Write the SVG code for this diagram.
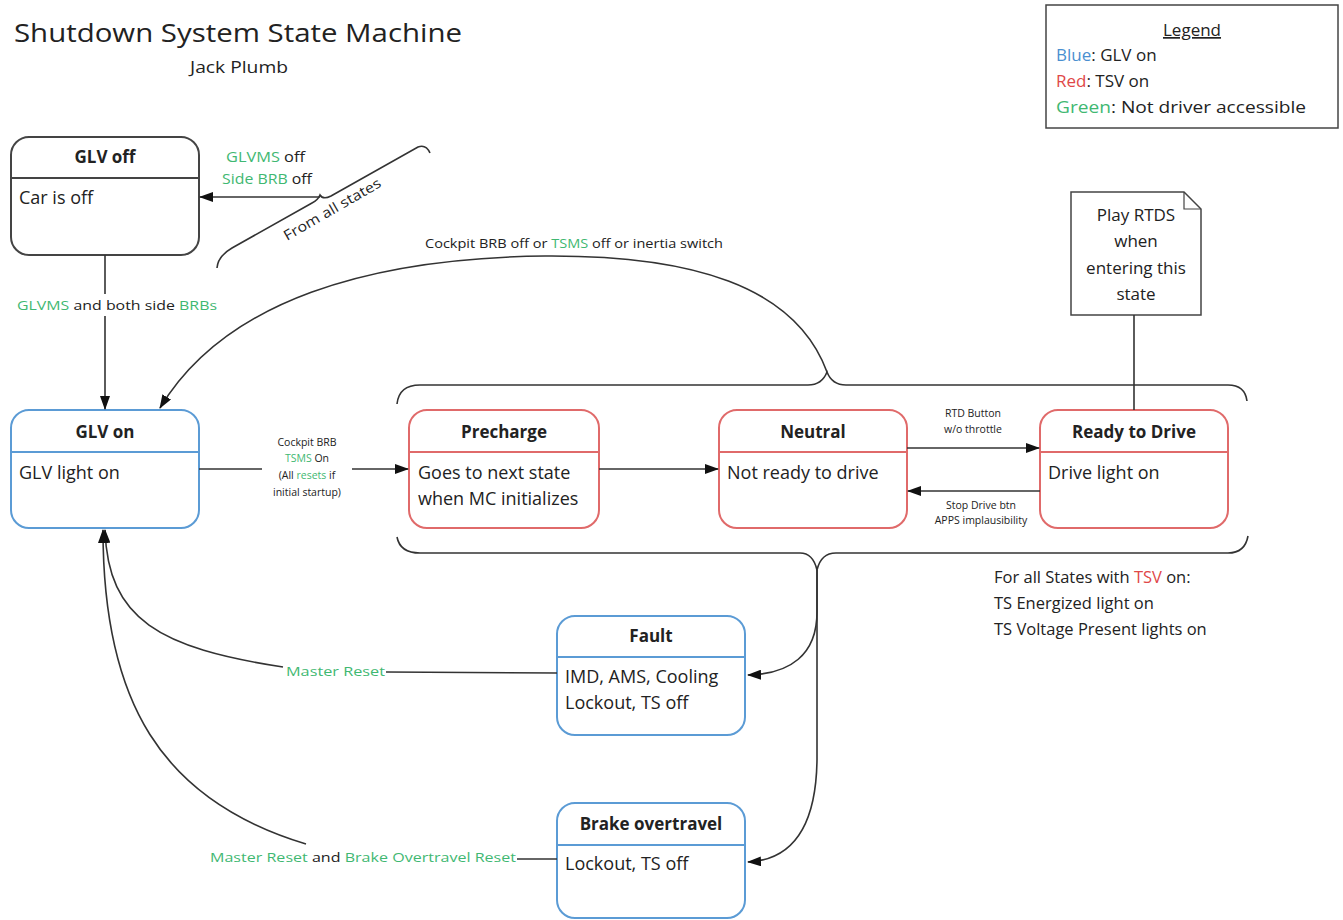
<svg xmlns="http://www.w3.org/2000/svg" width="1343" height="920" viewBox="0 0 1343 920">
<style>
text{font-family:"Open Sans",Lato,"Liberation Sans",sans-serif;fill:#222}
.g{fill:#3fb872}
.b{fill:#4a8fd0}
.r{fill:#e04848}
.ttl{font-weight:bold;font-size:17px;text-anchor:middle}
.bd{font-size:18px}
.xs{font-size:10.5px;text-anchor:middle}
.st-k{fill:#fff;stroke:#444;stroke-width:2}
.st-b{fill:#fff;stroke:#5b9bd5;stroke-width:2}
.st-r{fill:#fff;stroke:#e06a6a;stroke-width:2}
.conn{fill:none;stroke:#333;stroke-width:1.6}
</style>
<defs>
<marker id="ah" viewBox="0 0 14 10" refX="13" refY="5" markerWidth="14" markerHeight="10" markerUnits="userSpaceOnUse" orient="auto">
<path d="M0,0 L14,5 L0,10 Z" fill="#111"/>
</marker>
</defs>
<rect width="1343" height="920" fill="#fff"/>

<g id="title">
<text x="14" y="42" font-size="26" textLength="448" lengthAdjust="spacingAndGlyphs">Shutdown System State Machine</text>
<text x="190" y="73" font-size="16" textLength="98" lengthAdjust="spacingAndGlyphs">Jack Plumb</text>
</g>

<g id="legend">
<rect x="1046" y="5" width="292" height="123" fill="#fff" stroke="#444" stroke-width="1.5"/>
<text x="1192" y="36" font-size="17" text-anchor="middle" text-decoration="underline">Legend</text>
<text x="1056" y="61" font-size="17"><tspan class="b">Blue</tspan>: GLV on</text>
<text x="1056" y="87" font-size="17"><tspan class="r">Red</tspan>: TSV on</text>
<text x="1056" y="113" font-size="17" textLength="250" lengthAdjust="spacingAndGlyphs"><tspan class="g">Green</tspan>: Not driver accessible</text>
</g>

<g id="glv-off">
<rect class="st-k" x="11" y="137" width="188" height="118" rx="18"/>
<line x1="11" y1="178" x2="199" y2="178" stroke="#444" stroke-width="2"/>
<text class="ttl" x="105" y="163">GLV off</text>
<text class="bd" x="19" y="204">Car is off</text>
</g>

<g id="glv-on">
<rect class="st-b" x="11" y="410" width="188" height="118" rx="18"/>
<line x1="11" y1="452" x2="199" y2="452" stroke="#5b9bd5" stroke-width="2"/>
<text class="ttl" x="105" y="438">GLV on</text>
<text class="bd" x="19" y="479">GLV light on</text>
</g>

<g id="precharge">
<rect class="st-r" x="409" y="410" width="190" height="118" rx="18"/>
<line x1="409" y1="452" x2="599" y2="452" stroke="#e06a6a" stroke-width="2"/>
<text class="ttl" x="504" y="438">Precharge</text>
<text class="bd" x="418" y="479">Goes to next state</text>
<text class="bd" x="418" y="505">when MC initializes</text>
</g>

<g id="neutral">
<rect class="st-r" x="719" y="410" width="188" height="118" rx="18"/>
<line x1="719" y1="452" x2="907" y2="452" stroke="#e06a6a" stroke-width="2"/>
<text class="ttl" x="813" y="438">Neutral</text>
<text class="bd" x="727" y="479">Not ready to drive</text>
</g>

<g id="ready-to-drive">
<rect class="st-r" x="1040" y="410" width="188" height="118" rx="18"/>
<line x1="1040" y1="452" x2="1228" y2="452" stroke="#e06a6a" stroke-width="2"/>
<text class="ttl" x="1134" y="438">Ready to Drive</text>
<text class="bd" x="1048" y="479">Drive light on</text>
</g>

<g id="fault">
<rect class="st-b" x="557" y="616" width="188" height="119" rx="18"/>
<line x1="557" y1="657" x2="745" y2="657" stroke="#5b9bd5" stroke-width="2"/>
<text class="ttl" x="651" y="642">Fault</text>
<text class="bd" x="565" y="683">IMD, AMS, Cooling</text>
<text class="bd" x="565" y="709">Lockout, TS off</text>
</g>

<g id="brake-overtravel">
<rect class="st-b" x="557" y="803" width="188" height="115" rx="18"/>
<line x1="557" y1="845" x2="745" y2="845" stroke="#5b9bd5" stroke-width="2"/>
<text class="ttl" x="651" y="830">Brake overtravel</text>
<text class="bd" x="565" y="870">Lockout, TS off</text>
</g>

<g id="note">
<path d="M1071,192 L1184,192 L1201,209 L1201,315 L1071,315 Z" fill="#fff" stroke="#444" stroke-width="1.5"/>
<path d="M1184,192 L1184,209 L1201,209" fill="none" stroke="#444" stroke-width="1.2"/>
<text x="1136" y="221" font-size="17" text-anchor="middle">Play RTDS</text>
<text x="1136" y="247" font-size="17" text-anchor="middle">when</text>
<text x="1136" y="274" font-size="17" text-anchor="middle">entering this</text>
<text x="1136" y="300" font-size="17" text-anchor="middle">state</text>
</g>

<g id="tsv-info">
<text x="994" y="583" font-size="16.5">For all States with <tspan class="r">TSV</tspan> on:</text>
<text x="994" y="609" font-size="16.5">TS Energized light on</text>
<text x="994" y="635" font-size="16.5">TS Voltage Present lights on</text>
</g>

<g id="connectors">
<!-- from all states brace -->
<path class="conn" d="M217,268 Q218,256 232,248 L312,203 Q318,200 320,195 Q323,200 331,196 L418,147 Q426,144 430,153"/>
<text x="0" y="0" font-size="14" transform="translate(287,241) rotate(-30)" textLength="110" lengthAdjust="spacingAndGlyphs">From all states</text>
<path class="conn" d="M320,197 L200,197" marker-end="url(#ah)"/>
<text x="226" y="162" font-size="14.5" textLength="79" lengthAdjust="spacingAndGlyphs"><tspan class="g">GLVMS</tspan> off</text>
<text x="222" y="184" font-size="14.5" textLength="90" lengthAdjust="spacingAndGlyphs"><tspan class="g">Side BRB</tspan> off</text>

<!-- GLV off -> GLV on -->
<path class="conn" d="M105,255 L105,294"/>
<path class="conn" d="M105,316 L105,409" marker-end="url(#ah)"/>
<text x="17" y="310" font-size="13.5" textLength="200" lengthAdjust="spacingAndGlyphs"><tspan class="g">GLVMS</tspan> and both side <tspan class="g">BRBs</tspan></text>

<!-- top brace and return arc -->
<path class="conn" d="M397,404 Q399,385 420,385 L808,385 Q822,385 827,372 Q832,385 846,385 L1228,385 Q1245,385 1247,401"/>
<path class="conn" d="M827,372 C795,285 690,255 545,256 C370,258 225,300 160,408" marker-end="url(#ah)"/>
<text x="425" y="248" font-size="12.5" textLength="298" lengthAdjust="spacingAndGlyphs">Cockpit BRB off or <tspan class="g">TSMS</tspan> off or inertia switch</text>

<!-- bottom brace -->
<path class="conn" d="M397,537 Q400,553 420,553 L800,553 Q813,553 817,570 Q821,553 836,553 L1228,553 Q1245,553 1248,536"/>
<path class="conn" d="M817,570 L817,612 C817,655 790,674 748,675" marker-end="url(#ah)"/>
<path class="conn" d="M817,570 L817,760 C816,830 790,860 748,862" marker-end="url(#ah)"/>

<!-- GLV on -> Precharge -->
<path class="conn" d="M199,469 L262,469"/>
<path class="conn" d="M352,469 L408,469" marker-end="url(#ah)"/>
<text class="xs" x="307" y="446">Cockpit BRB</text>
<text class="xs" x="307" y="462"><tspan class="g">TSMS</tspan> On</text>
<text class="xs" x="307" y="479">(All <tspan class="g">resets</tspan> if</text>
<text class="xs" x="307" y="496">initial startup)</text>

<!-- Precharge -> Neutral -->
<path class="conn" d="M599,469 L718,469" marker-end="url(#ah)"/>

<!-- Neutral <-> RTD -->
<path class="conn" d="M907,448 L1039,448" marker-end="url(#ah)"/>
<text class="xs" x="973" y="417">RTD Button</text>
<text class="xs" x="973" y="433">w/o throttle</text>
<path class="conn" d="M1040,491 L908,491" marker-end="url(#ah)"/>
<text class="xs" x="981" y="509">Stop Drive btn</text>
<text class="xs" x="981" y="524">APPS implausibility</text>

<!-- note anchor -->
<path class="conn" d="M1134,315 L1134,410"/>

<!-- Fault -> GLV on -->
<path class="conn" d="M557,673 L386,672"/>
<text x="286" y="676" font-size="13.5" class="g" textLength="99" lengthAdjust="spacingAndGlyphs">Master Reset</text>
<path class="conn" d="M283,667 C160,648 108,620 105,530" marker-end="url(#ah)"/>

<!-- Brake -> GLV on -->
<path class="conn" d="M557,859 L517,859"/>
<text x="210" y="862" font-size="13.5" textLength="306" lengthAdjust="spacingAndGlyphs"><tspan class="g">Master Reset</tspan> and <tspan class="g">Brake Overtravel Reset</tspan></text>
<path class="conn" d="M306,844 C160,800 103,700 103,530" marker-end="url(#ah)"/>
</g>
</svg>
